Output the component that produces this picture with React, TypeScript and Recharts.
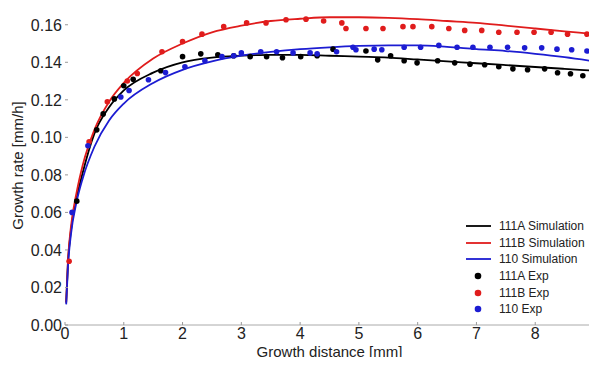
import { ComposedChart, Line, Scatter, XAxis, YAxis } from 'recharts';

// simulation curves: [growth distance mm, growth rate mm/h]
const simX = [0.02, 0.05, 0.1, 0.2, 0.3, 0.5, 0.75, 1, 1.5, 2, 2.5, 3, 3.5, 4, 4.5, 5, 5.5, 6, 6.5, 7, 7.5, 8, 8.5, 9];
const sim111A = [0.012, 0.033, 0.05, 0.068, 0.081, 0.102, 0.116, 0.125, 0.1345, 0.14, 0.1425, 0.1435, 0.144, 0.144, 0.1435, 0.143, 0.1425, 0.1415, 0.1405, 0.1395, 0.1385, 0.1375, 0.1365, 0.1355];
const sim111B = [0.012, 0.034, 0.052, 0.071, 0.085, 0.104, 0.119, 0.129, 0.142, 0.15, 0.156, 0.1595, 0.162, 0.1632, 0.164, 0.164, 0.1637, 0.163, 0.162, 0.161, 0.1595, 0.158, 0.1565, 0.155];
const sim110 = [0.011, 0.031, 0.048, 0.066, 0.078, 0.095, 0.109, 0.118, 0.129, 0.136, 0.1405, 0.1435, 0.1455, 0.147, 0.148, 0.1487, 0.149, 0.149, 0.1482, 0.147, 0.146, 0.1445, 0.1427, 0.1405];

// experiment points
const exp111A = [[0.2, 0.066], [0.54, 0.104], [0.65, 0.1125], [0.84, 0.1205], [1.0, 0.1275], [1.16, 0.131], [1.63, 0.1355], [2.0, 0.143], [2.31, 0.1445], [2.6, 0.144], [2.87, 0.1435], [3.15, 0.143], [3.43, 0.143], [3.7, 0.1424], [4.01, 0.143], [4.29, 0.1435], [4.56, 0.147], [5.12, 0.146], [5.32, 0.1413], [5.54, 0.1435], [5.77, 0.1408], [5.99, 0.1397], [6.34, 0.1408], [6.63, 0.1397], [6.89, 0.139], [7.14, 0.1387], [7.38, 0.1376], [7.62, 0.1365], [7.87, 0.136], [8.16, 0.1365], [8.38, 0.1344], [8.6, 0.1339], [8.81, 0.1328]];
const exp111B = [[0.07, 0.034], [0.41, 0.0976], [0.72, 0.119], [1.06, 0.13], [1.23, 0.134], [1.65, 0.1456], [2.0, 0.151], [2.33, 0.155], [2.7, 0.159], [3.09, 0.161], [3.42, 0.161], [3.76, 0.1627], [4.1, 0.163], [4.4, 0.162], [4.71, 0.161], [4.78, 0.158], [5.12, 0.158], [5.41, 0.158], [5.75, 0.159], [5.92, 0.159], [6.24, 0.159], [6.53, 0.158], [6.8, 0.157], [7.09, 0.157], [7.38, 0.156], [7.69, 0.156], [7.98, 0.156], [8.27, 0.156], [8.55, 0.155], [8.88, 0.155]];
const exp110 = [[0.12, 0.06], [0.39, 0.0955], [0.95, 0.1215], [1.09, 0.125], [1.42, 0.1307], [1.71, 0.1345], [2.04, 0.1376], [2.38, 0.1408], [2.67, 0.143], [2.87, 0.1435], [3.0, 0.145], [3.33, 0.1456], [3.6, 0.1456], [3.88, 0.145], [4.17, 0.145], [4.29, 0.1445], [4.62, 0.1456], [4.9, 0.148], [4.95, 0.1467], [5.26, 0.147], [5.39, 0.1467], [5.77, 0.148], [6.05, 0.148], [6.36, 0.149], [6.67, 0.148], [6.94, 0.148], [7.23, 0.148], [7.53, 0.148], [7.82, 0.1477], [8.11, 0.1477], [8.37, 0.147], [8.62, 0.1467], [8.88, 0.146]];

const xTicks = [0, 1, 2, 3, 4, 5, 6, 7, 8, 9];
const yTicks = [0, 0.02, 0.04, 0.06, 0.08, 0.1, 0.12, 0.14, 0.16];
const X_MAX = 9;
const Y_MAX = 0.17;

const BLACK = '#000000';
const RED = '#e01c1c';
const BLUE = '#1c1cd2';
const FONT = '"Liberation Sans", Arial, sans-serif';

// chart box
const W = 597;
const H = 365;
const M = { top: 6, right: 3, left: 0, bottom: 0 };
const Y_W = 65;
const X_H = 40;
const PLOT_L = M.left + Y_W;
const PLOT_R = W - M.right;
const PLOT_T = M.top;
const PLOT_B = H - M.bottom - X_H;

const toPts = (ys: number[]) => simX.map((x, i) => ({ x, y: ys[i] }));
const toExp = (arr: number[][]) => arr.map(([x, y]) => ({ x, y }));

const legendItems = [
  { name: '111A Simulation', color: BLACK, kind: 'line' },
  { name: '111B Simulation', color: RED, kind: 'line' },
  { name: '110 Simulation', color: BLUE, kind: 'line' },
  { name: '111A Exp', color: BLACK, kind: 'dot' },
  { name: '111B Exp', color: RED, kind: 'dot' },
  { name: '110 Exp', color: BLUE, kind: 'dot' },
];

const XTick = ({ x, y, payload }: any) => (
  <g>
    <line x1={x} x2={x} y1={y} y2={y - 3} stroke='#999' />
    <text x={x} y={y + 14} textAnchor='middle' fontSize={16} fill='#222' fontFamily={FONT}>{payload.value}</text>
  </g>
);

const YTick = ({ x, y, payload }: any) => (
  <g>
    <line x1={x} x2={x + 3} y1={y} y2={y} stroke='#999' />
    <text x={x - 3} y={y} dy='0.36em' textAnchor='end' fontSize={16} fill='#222' fontFamily={FONT}>{payload.value.toFixed(2)}</text>
  </g>
);

const YLabel = ({ viewBox }: any) => {
  const cx = viewBox.x + 17;
  const cy = viewBox.y + viewBox.height / 2;
  return (
    <text x={cx} y={cy} transform={`rotate(-90 ${cx} ${cy})`} textAnchor='middle' dominantBaseline='central'
      fontSize={15} fill='#222' fontFamily={FONT}>Growth rate [mm/h]</text>
  );
};

const LegendBox = () => (
  <div style={{ position: 'absolute', left: 466, top: 218, fontFamily: FONT, fontSize: 12, color: '#222' }}>
    {legendItems.map((it) => (
      <div key={it.name} style={{ display: 'flex', alignItems: 'center', height: 16.6, whiteSpace: 'nowrap' }}>
        <svg width={33} height={10}>
          {it.kind === 'line'
            ? <line x1={0} x2={25} y1={5} y2={5} stroke={it.color} strokeWidth={1.8} />
            : <circle cx={12} cy={5} r={3.3} fill={it.color} />}
        </svg>
        <span>{it.name}</span>
      </div>
    ))}
  </div>
);

// frame edges and the last x tick label, laid over the plot edges
const Frame = () => (
  <>
    <div style={{ position: 'absolute', left: PLOT_L, top: PLOT_T - 1, width: PLOT_R - PLOT_L, height: 1.5, background: '#111' }} />
    <div style={{ position: 'absolute', left: PLOT_R - 0.5, top: PLOT_T, width: 1, height: PLOT_B - PLOT_T, background: '#999' }} />
    <div style={{ position: 'absolute', left: PLOT_R - 5, top: PLOT_B - 3, fontFamily: FONT, fontSize: 16, color: '#222', lineHeight: '20px' }}>
      {xTicks[xTicks.length - 1]}
    </div>
  </>
);

const Dot = (props: any) => <circle cx={props.cx} cy={props.cy} r={2.8} fill={props.fill} />;

export default function App() {
  return (
    <div style={{ position: 'relative', width: W, height: H, margin: -8, background: '#fff', overflow: 'hidden' }}>
      <ComposedChart width={W} height={H} margin={M}>
        <XAxis type='number' dataKey='x' domain={[0, X_MAX]} ticks={xTicks.slice(0, -1)} interval={0} tickSize={0} tickMargin={0}
          allowDataOverflow tick={<XTick />} stroke='#aaa' height={X_H}
          label={{ value: 'Growth distance [mm]', position: 'insideBottom', offset: 8, fontSize: 15, fill: '#222', fontFamily: FONT }} />
        <YAxis type='number' domain={[0, Y_MAX]} ticks={yTicks} interval={0} tickSize={0} tickMargin={0}
          allowDataOverflow tick={<YTick />} axisLine={false} width={Y_W} label={<YLabel />} />
        <Line data={toPts(sim111A)} dataKey='y' type='monotone' stroke={BLACK} strokeWidth={1.8} dot={false} isAnimationActive={false} />
        <Line data={toPts(sim111B)} dataKey='y' type='monotone' stroke={RED} strokeWidth={1.8} dot={false} isAnimationActive={false} />
        <Line data={toPts(sim110)} dataKey='y' type='monotone' stroke={BLUE} strokeWidth={1.8} dot={false} isAnimationActive={false} />
        <Scatter data={toExp(exp111A)} dataKey='y' fill={BLACK} shape={<Dot />} isAnimationActive={false} />
        <Scatter data={toExp(exp111B)} dataKey='y' fill={RED} shape={<Dot />} isAnimationActive={false} />
        <Scatter data={toExp(exp110)} dataKey='y' fill={BLUE} shape={<Dot />} isAnimationActive={false} />
      </ComposedChart>
      <Frame />
      <LegendBox />
    </div>
  );
}
